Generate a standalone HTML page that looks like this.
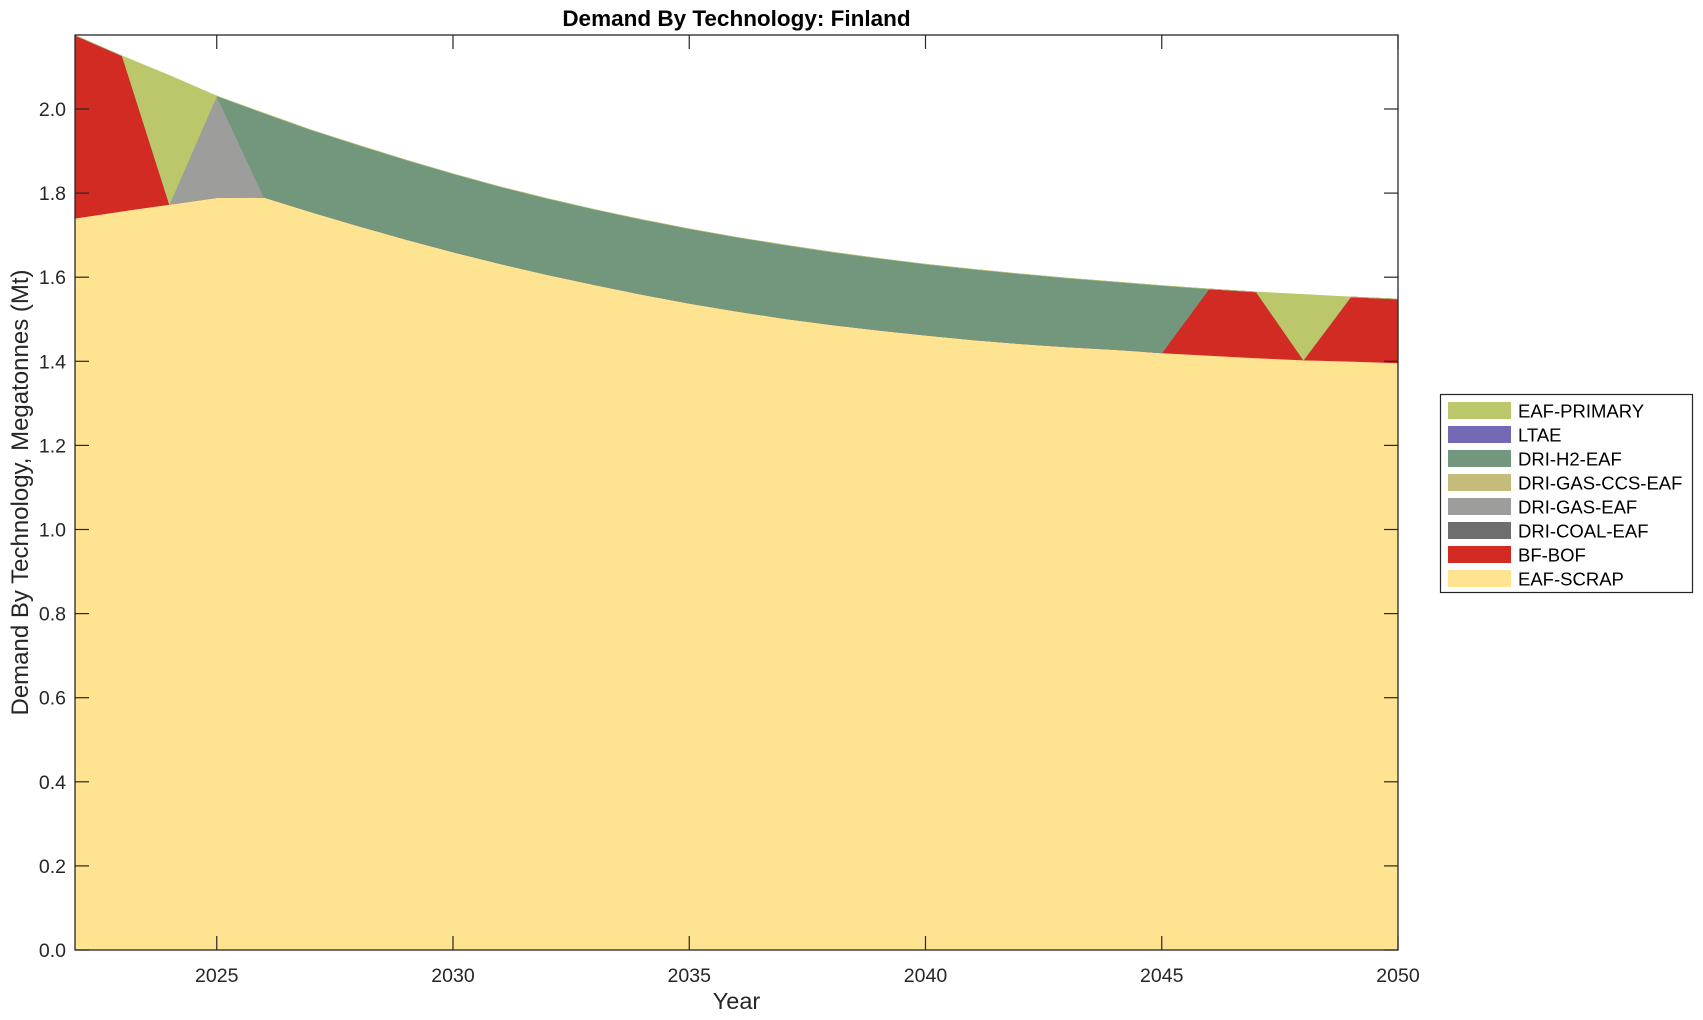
<!DOCTYPE html>
<html><head><meta charset="utf-8"><style>
html,body{margin:0;padding:0;background:#fff;}
svg{display:block;font-family:"Liberation Sans",Arial,sans-serif;}
</style></head><body>
<svg id="s" width="1703" height="1020" xmlns="http://www.w3.org/2000/svg"></svg>
<script>
const s=document.getElementById('s');
const L=75,R=1398,T=35,B=950,K=420.5;
const X=y=>L+(y-2022)*(R-L)/28, Y=v=>B-v*K;
const tot=[2.175,2.126,2.08,2.031,1.99,1.95,1.914,1.879,1.846,1.815,1.787,1.761,1.737,1.715,1.695,1.677,1.66,1.645,1.631,1.619,1.608,1.598,1.589,1.58,1.572,1.565,1.559,1.553,1.548];
const scr=[1.74,1.757,1.773,1.789,1.79,1.755,1.722,1.69,1.66,1.632,1.606,1.582,1.559,1.538,1.519,1.502,1.487,1.474,1.462,1.451,1.442,1.434,1.428,1.42,1.414,1.408,1.403,1.4,1.396];
const who=i=>{const y=2022+i;if(y<=2023)return'bf';if(y==2024)return'pr';if(y==2025)return'gas';if(y<=2045)return'h2';if(y<=2047)return'bf';if(y==2048)return'pr';return'bf';};
const order=['bf','coal','gas','ccs','h2','ltae','pr'];
const col={scr:'#fee391',bf:'#d22b24',coal:'#6e6e6e',gas:'#9d9d9c',ccs:'#c5bb7b',h2:'#73977d',ltae:'#7369b5',pr:'#bcc76b'};
let h='';
const n=tot.length;
function poly(lo,hi,c){let p=[];for(let i=0;i<n;i++)p.push(X(2022+i)+','+Y(hi[i]));for(let i=n-1;i>=0;i--)p.push(X(2022+i)+','+Y(lo[i]));h+=`<polygon points="${p.join(' ')}" fill="${c}" stroke="${c}" stroke-width="0.6"/>`;}
poly(new Array(n).fill(0),scr,col.scr);
let cum=scr.slice();
for(const k of order){const nx=cum.map((v,i)=>v+(who(i)==k?tot[i]-scr[i]:0));if(nx.some((v,i)=>v!=cum[i]))poly(cum,nx,col[k]);cum=nx;}
h+=`<rect x="${L}" y="${T}" width="${R-L}" height="${B-T}" fill="none" stroke="#262626" stroke-width="1.3"/>`;
for(let v=0;v<=2.01;v+=0.2){const y=Y(v);h+=`<line x1="${L}" x2="${L+14}" y1="${y}" y2="${y}" stroke="#262626" stroke-width="1.2"/><line x1="${R-14}" x2="${R}" y1="${y}" y2="${y}" stroke="#262626" stroke-width="1.2"/><text x="${L-9}" y="${y+7}" text-anchor="end" font-size="19.5" fill="#262626">${v.toFixed(1)}</text>`;}
for(let yr=2025;yr<=2050;yr+=5){const x=X(yr);h+=`<line x1="${x}" x2="${x}" y1="${B}" y2="${B-14}" stroke="#262626" stroke-width="1.2"/><line x1="${x}" x2="${x}" y1="${T}" y2="${T+14}" stroke="#262626" stroke-width="1.2"/><text x="${x}" y="982" text-anchor="middle" font-size="19.5" fill="#262626">${yr}</text>`;}
h+=`<text x="${(L+R)/2}" y="1009" text-anchor="middle" font-size="23.5" fill="#262626">Year</text>`;
h+=`<text x="${(L+R)/2}" y="26" text-anchor="middle" font-size="22.5" font-weight="bold" fill="#000">Demand By Technology: Finland</text>`;
h+=`<text transform="translate(28,${(T+B)/2}) rotate(-90)" text-anchor="middle" font-size="24" fill="#262626">Demand By Technology, Megatonnes (Mt)</text>`;
h+=`<rect x="1440.5" y="394.5" width="252" height="198" fill="#fff" stroke="#262626" stroke-width="1.2"/>`;
const lg=[['EAF-PRIMARY','pr'],['LTAE','ltae'],['DRI-H2-EAF','h2'],['DRI-GAS-CCS-EAF','ccs'],['DRI-GAS-EAF','gas'],['DRI-COAL-EAF','coal'],['BF-BOF','bf'],['EAF-SCRAP','scr']];
lg.forEach((e,i)=>{const y=402+i*24;h+=`<rect x="1448" y="${y}" width="63" height="17" fill="${col[e[1]]}"/><text x="1518" y="${y+15.5}" font-size="18.5" fill="#000">${e[0]}</text>`;});
s.innerHTML=h;
</script>
</body></html>
